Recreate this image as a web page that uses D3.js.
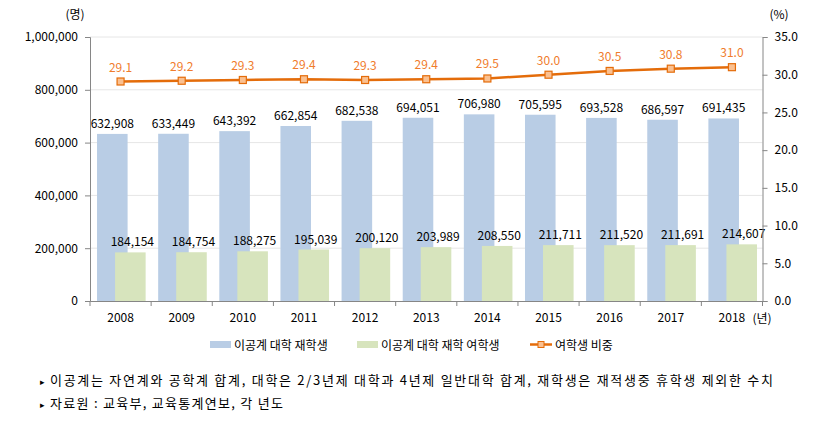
<!DOCTYPE html>
<html><head><meta charset="utf-8">
<script src="https://cdn.jsdelivr.net/npm/d3@7"></script>
<style>body{margin:0;background:#fff}svg{display:block}text{font-family:"Noto Sans CJK KR","Noto Sans",sans-serif}</style>
</head><body><svg id="c" width="815" height="427"></svg>
<script>
const years = ["2008","2009","2010","2011","2012","2013","2014","2015","2016","2017","2018"];
const totalStudents = [632908,633449,643392,662854,682538,694051,706980,705595,693528,686597,691435];
const femaleStudents = [184154,184754,188275,195039,200120,203989,208550,211711,211520,211691,214607];
const femaleRatio = [29.1,29.2,29.3,29.4,29.3,29.4,29.5,30.0,30.5,30.8,31.0];
const leftTicks = [0,200000,400000,600000,800000,1000000];
const rightTicks = [0,5,10,15,20,25,30,35];
const seriesNames = ["이공계 대학 재학생","이공계 대학 재학 여학생","여학생 비중"];
const notes = ["이공계는 자연계와 공학계 합계, 대학은 2/3년제 대학과 4년제 일반대학 합계, 재학생은 재적생중 휴학생 제외한 수치","자료원 : 교육부, 교육통계연보, 각 년도"];

const svg = d3.select("#c");
const L = 90, R = 762.5, T = 37, B = 301;
const x = d3.scaleBand().domain(years).range([L, R]).padding(0);
const yL = d3.scaleLinear().domain([0, 1000000]).range([B, T]);
const yR = d3.scaleLinear().domain([0, 35]).range([B, T]);
const bw = x.bandwidth();
const blueC = "#B9CDE5", greenC = "#D7E4BD", orange = "#E46C0A", orangeText = "#F07C2C", markFill = "#FAC090";

// gridlines
svg.append("g").selectAll("line").data(leftTicks.slice(1)).join("line")
  .attr("x1", L).attr("x2", R).attr("y1", d => yL(d)).attr("y2", d => yL(d))
  .attr("stroke", "#E6E6E6").attr("stroke-width", 1);

// bars
const blueOff = bw * 0.115, greenOff = bw * 0.41, barW = bw * 0.5;
svg.append("g").selectAll("rect").data(years).join("rect")
  .attr("x", d => x(d) + blueOff).attr("width", barW)
  .attr("y", (d, i) => yL(totalStudents[i])).attr("height", (d, i) => B - yL(totalStudents[i]))
  .attr("fill", blueC);
svg.append("g").selectAll("rect").data(years).join("rect")
  .attr("x", d => x(d) + greenOff).attr("width", barW)
  .attr("y", (d, i) => yL(femaleStudents[i])).attr("height", (d, i) => B - yL(femaleStudents[i]))
  .attr("fill", greenC);

const fmt = d3.format(",");
svg.append("g").selectAll("text").data(years).join("text")
  .attr("x", d => x(d) + blueOff + barW / 2).attr("y", (d, i) => yL(totalStudents[i]) - 6)
  .attr("text-anchor", "middle").attr("font-size", 12).attr("fill", "#000")
  .text((d, i) => fmt(totalStudents[i]));
svg.append("g").selectAll("text").data(years).join("text")
  .attr("x", d => x(d) + greenOff + barW / 2 + 2).attr("y", (d, i) => yL(femaleStudents[i]) - 6)
  .attr("text-anchor", "middle").attr("font-size", 12).attr("fill", "#000")
  .text((d, i) => fmt(femaleStudents[i]));

// line
const cx = d => x(d) + bw / 2;
svg.append("path").datum(years)
  .attr("d", d3.line().x(d => cx(d)).y((d, i) => yR(femaleRatio[i])))
  .attr("fill", "none").attr("stroke", orange).attr("stroke-width", 2.5);
svg.append("g").selectAll("rect").data(years).join("rect")
  .attr("x", d => cx(d) - 3.5).attr("y", (d, i) => yR(femaleRatio[i]) - 3.5)
  .attr("width", 7).attr("height", 7).attr("fill", markFill).attr("stroke", orange).attr("stroke-width", 1.2);
svg.append("g").selectAll("text").data(years).join("text")
  .attr("x", d => cx(d)).attr("y", (d, i) => yR(femaleRatio[i]) - 10)
  .attr("text-anchor", "middle").attr("font-size", 12).attr("fill", orangeText)
  .text((d, i) => femaleRatio[i].toFixed(1));

// axes
const axL = svg.append("g").attr("transform", `translate(${L},0)`)
  .call(d3.axisLeft(yL).tickValues(leftTicks).tickFormat(d3.format(",")).tickSizeOuter(0).tickSize(5).tickPadding(7));
const axR = svg.append("g").attr("transform", `translate(${R},0)`)
  .call(d3.axisRight(yR).tickValues(rightTicks).tickFormat(d3.format(".1f")).tickSizeOuter(0).tickSize(5).tickPadding(7));
const axB = svg.append("g").attr("transform", `translate(0,${B})`)
  .call(d3.axisBottom(x).tickSize(0).tickPadding(12));
// category boundary ticks
svg.append("g").selectAll("line").data(d3.range(years.length + 1)).join("line")
  .attr("x1", i => L + i * bw).attr("x2", i => L + i * bw).attr("y1", B).attr("y2", B + 5)
  .attr("stroke", "#868686");
[axL, axR, axB].forEach(a => {
  a.selectAll("path").attr("stroke", "#868686");
  a.selectAll("line").attr("stroke", "#868686");
  a.selectAll("text").attr("font-size", 12).attr("fill", "#000").style("font-family", '"Noto Sans CJK KR",sans-serif');
});

svg.append("text").attr("x", 75).attr("y", 19).attr("text-anchor", "middle").attr("font-size", 12).text("(명)");
svg.append("text").attr("x", 779).attr("y", 19).attr("text-anchor", "middle").attr("font-size", 12).text("(%)");
svg.append("text").attr("x", 762).attr("y", 323).attr("text-anchor", "middle").attr("font-size", 12).text("(년)");

// legend
const lg = svg.append("g").attr("font-size", 12);
lg.append("rect").attr("x", 210).attr("y", 341).attr("width", 21).attr("height", 7).attr("fill", blueC);
lg.append("text").attr("x", 234).attr("y", 349.5).text(seriesNames[0]);
lg.append("rect").attr("x", 357).attr("y", 341).attr("width", 21).attr("height", 7).attr("fill", greenC);
lg.append("text").attr("x", 381).attr("y", 349.5).text(seriesNames[1]);
lg.append("line").attr("x1", 530).attr("x2", 552).attr("y1", 344.5).attr("y2", 344.5).attr("stroke", orange).attr("stroke-width", 2.5);
lg.append("rect").attr("x", 538).attr("y", 341.5).attr("width", 6).attr("height", 6).attr("fill", markFill).attr("stroke", orange);
lg.append("text").attr("x", 555).attr("y", 349.5).text(seriesNames[2]);

// notes
const nt = svg.append("g").attr("font-size", 13).attr("fill", "#000");
const noteLens = [723, 233];
notes.forEach((n, i) => {
  nt.append("text").attr("x", 40).attr("y", 385 + i * 23).attr("font-size", 9).text("▸");
  nt.append("text").attr("x", 50).attr("y", 385 + i * 23).attr("textLength", noteLens[i]).text(n);
});
</script></body></html>
